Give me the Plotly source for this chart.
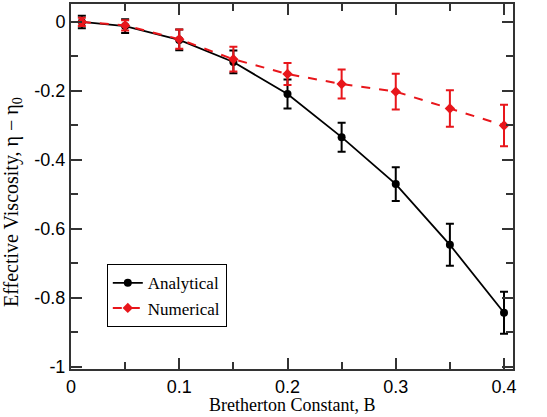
import plotly.graph_objects as go

b_values = [0.01, 0.05, 0.1, 0.15, 0.2, 0.25, 0.3, 0.35, 0.4]
analytical = [0.0, -0.012, -0.052, -0.116, -0.209, -0.334, -0.47, -0.646, -0.843]
analytical_err = [0.018, 0.02, 0.03, 0.033, 0.042, 0.042, 0.049, 0.061, 0.061]
numerical = [0.0, -0.01, -0.05, -0.108, -0.151, -0.18, -0.202, -0.251, -0.30]
numerical_err = [0.012, 0.015, 0.028, 0.036, 0.032, 0.042, 0.052, 0.053, 0.06]

x_title = "Bretherton Constant, B"
y_title = "Effective Viscosity, η − η<sub>0</sub>"

fig = go.Figure()
fig.add_trace(go.Scatter(
    x=b_values, y=analytical, name="Analytical", mode="lines+markers",
    line=dict(color="black", width=1.8),
    marker=dict(symbol="circle", size=8, color="black"),
    error_y=dict(type="data", array=analytical_err, color="black", thickness=2, width=4),
))
fig.add_trace(go.Scatter(
    x=b_values, y=numerical, name="Numerical", mode="lines+markers",
    line=dict(color="#e8161b", width=2, dash="dash"),
    marker=dict(symbol="diamond", size=8, color="#e8161b"),
    error_y=dict(type="data", array=numerical_err, color="#e8161b", thickness=2, width=4),
))

axis_common = dict(
    showgrid=False, zeroline=False, showline=True, linecolor="#333", linewidth=2,
    mirror="ticks", ticks="inside", ticklen=11, tickwidth=1.5, tickcolor="#333",
    tickfont=dict(family="Liberation Sans, Arial, sans-serif", size=18, color="black"),
)
fig.update_xaxes(
    range=[0, 0.4083], tickvals=[0, 0.1, 0.2, 0.3, 0.4], ticktext=["0", "0.1", "0.2", "0.3", "0.4"],
    minor=dict(dtick=0.05, tick0=0, ticks="inside", ticklen=7, tickcolor="#333", tickwidth=1.5),
    **axis_common,
)
fig.update_yaxes(
    range=[-1.006, 0.052], tickvals=[0, -0.2, -0.4, -0.6, -0.8, -1], ticktext=["0", "-0.2", "-0.4", "-0.6", "-0.8", "-1"],
    minor=dict(dtick=0.1, tick0=0, ticks="inside", ticklen=7, tickcolor="#333", tickwidth=1.5),
    **axis_common,
)
fig.add_annotation(text=x_title, xref="paper", yref="paper", x=0.5, y=0,
                   xanchor="center", yanchor="top", yshift=-24, showarrow=False,
                   font=dict(family="Liberation Serif, Times New Roman, serif", size=18, color="black"))
fig.add_annotation(text=y_title, xref="paper", yref="paper", x=0, y=0.4575, textangle=-90,
                   xanchor="center", yanchor="middle", xshift=-59, showarrow=False,
                   font=dict(family="Liberation Serif, Times New Roman, serif", size=20, color="black"))
fig.update_layout(
    width=547, height=417,
    margin=dict(l=71, r=34, t=4, b=48, autoexpand=False),
    plot_bgcolor="white", paper_bgcolor="white",
    legend=dict(
        x=0.081, y=0.287, xanchor="left", yanchor="top",
        bordercolor="black", borderwidth=1, bgcolor="white",
        font=dict(family="Liberation Serif, Times New Roman, serif", size=17, color="black"),
        itemwidth=30, tracegroupgap=0,
    ),
)
fig.write_html("out.html", config={"displayModeBar": False},
               post_script="document.body.style.margin='0';document.body.style.padding='0';")
